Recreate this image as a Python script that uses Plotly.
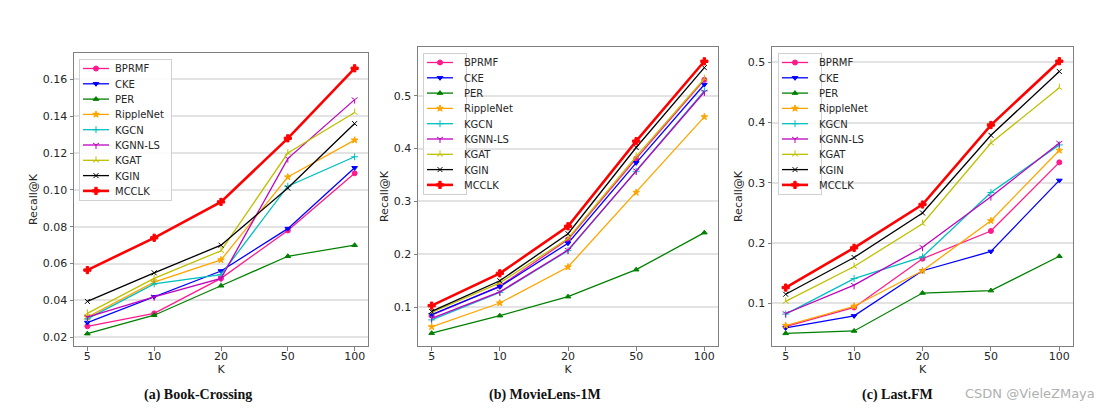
import plotly.graph_objects as go

ks = ["5", "10", "20", "50", "100"]
models = ["BPRMF", "CKE", "PER", "RippleNet", "KGCN", "KGNN-LS", "KGAT", "KGIN", "MCCLK"]

book = {
    "BPRMF":     [0.026, 0.033, 0.052, 0.078, 0.109],
    "CKE":       [0.028, 0.042, 0.056, 0.079, 0.112],
    "PER":       [0.022, 0.032, 0.048, 0.064, 0.070],
    "RippleNet": [0.031, 0.050, 0.062, 0.107, 0.127],
    "KGCN":      [0.030, 0.049, 0.054, 0.102, 0.118],
    "KGNN-LS":   [0.031, 0.042, 0.052, 0.117, 0.149],
    "KGAT":      [0.033, 0.052, 0.067, 0.120, 0.142],
    "KGIN":      [0.0395, 0.055, 0.070, 0.101, 0.136],
    "MCCLK":     [0.0565, 0.074, 0.0935, 0.128, 0.166],
}
movie = {
    "BPRMF":     [0.085, 0.140, 0.228, 0.381, 0.530],
    "CKE":       [0.086, 0.139, 0.221, 0.373, 0.521],
    "PER":       [0.051, 0.084, 0.120, 0.171, 0.241],
    "RippleNet": [0.063, 0.108, 0.176, 0.317, 0.460],
    "KGCN":      [0.076, 0.128, 0.207, 0.357, 0.509],
    "KGNN-LS":   [0.079, 0.129, 0.208, 0.358, 0.507],
    "KGAT":      [0.090, 0.146, 0.230, 0.385, 0.532],
    "KGIN":      [0.092, 0.150, 0.239, 0.402, 0.553],
    "MCCLK":     [0.103, 0.164, 0.253, 0.414, 0.565],
}
lastfm = {
    "BPRMF":     [0.061, 0.093, 0.174, 0.220, 0.334],
    "CKE":       [0.059, 0.079, 0.154, 0.186, 0.304],
    "PER":       [0.050, 0.054, 0.117, 0.121, 0.178],
    "RippleNet": [0.063, 0.095, 0.154, 0.237, 0.354],
    "KGCN":      [0.082, 0.141, 0.177, 0.284, 0.363],
    "KGNN-LS":   [0.083, 0.130, 0.193, 0.277, 0.366],
    "KGAT":      [0.103, 0.161, 0.232, 0.366, 0.458],
    "KGIN":      [0.115, 0.176, 0.250, 0.379, 0.485],
    "MCCLK":     [0.126, 0.192, 0.264, 0.396, 0.502],
}
captions = ["(a) Book-Crossing", "(b) MovieLens-1M", "(c) Last.FM"]

colors = {"BPRMF": "#ff1a8c", "CKE": "#0000ff", "PER": "#008000", "RippleNet": "#ffa500",
          "KGCN": "#00bfbf", "KGNN-LS": "#bf00bf", "KGAT": "#bfbf00", "KGIN": "#000000",
          "MCCLK": "#ff0000"}
symbols = {"BPRMF": "circle", "CKE": "triangle-down", "PER": "triangle-up", "RippleNet": "star",
           "KGCN": "cross-thin-open", "KGNN-LS": "y-down-open", "KGAT": "y-up-open",
           "KGIN": "x-thin-open", "MCCLK": "cross"}
sizes = {"BPRMF": 5, "CKE": 5, "PER": 5, "RippleNet": 5, "KGCN": 5, "KGNN-LS": 5,
         "KGAT": 5, "KGIN": 5, "MCCLK": 6}

W, H = 1117, 408
panels = [
    dict(data=book, xd=(74, 368), yd=(53, 346), yr=(0.0153, 0.1743), dt=0.02, fmt=".2f",
         leg=(79, 59), cap=198),
    dict(data=movie, xd=(418, 718), yd=(47, 346), yr=(0.0267, 0.592), dt=0.1, fmt=".1f",
         leg=(423, 53), cap=545),
    dict(data=lastfm, xd=(772, 1073), yd=(47, 346), yr=(0.029, 0.5256), dt=0.1, fmt=".1f",
         leg=(778, 53), cap=897),
]

fig = go.Figure()
layout = {}
for i, p in enumerate(panels):
    n = "" if i == 0 else str(i + 1)
    lg = "legend" + n
    for m in models:
        thick = m == "MCCLK"
        fig.add_trace(go.Scatter(
            x=ks, y=p["data"][m], name=m, mode="lines+markers",
            xaxis="x" + n, yaxis="y" + n, legend=lg,
            line=dict(color=colors[m], width=2.6 if thick else 1.3),
            marker=dict(symbol=symbols[m], size=sizes[m], color=colors[m],
                        line=dict(color=colors[m], width=1)),
        ))
    axcommon = dict(showline=True, linecolor="#7f7f7f", linewidth=1, mirror=True,
                    ticks="outside", ticklen=3.5, tickcolor="#7f7f7f",
                    tickfont=dict(family="DejaVu Sans", size=11, color="#262626"),
                    automargin=False)
    layout["xaxis" + n] = dict(axcommon, domain=[p["xd"][0] / W, p["xd"][1] / W],
                               anchor="y" + n, type="category", range=[-0.2, 4.2],
                               showgrid=False, ticklabelstandoff=-4,
                               title=dict(text="K", standoff=0,
                                          font=dict(family="DejaVu Sans", size=11, color="#262626")))
    layout["yaxis" + n] = dict(axcommon, domain=[1 - p["yd"][1] / H, 1 - p["yd"][0] / H],
                               anchor="x" + n, range=list(p["yr"]), dtick=p["dt"],
                               tickformat=p["fmt"], showgrid=True, gridcolor="#e3e3e3",
                               gridwidth=1.5, zeroline=False,
                               title=dict(text="Recall@K", standoff=2,
                                          font=dict(family="DejaVu Sans", size=11, color="#262626")))
    layout[lg] = dict(x=p["leg"][0] / W, y=1 - p["leg"][1] / H, xanchor="left", yanchor="top",
                      bgcolor="rgba(255,255,255,0.85)", bordercolor="#d0d0d0", borderwidth=1,
                      font=dict(family="DejaVu Sans", size=10, color="#262626"),
                      tracegroupgap=0, itemwidth=30)

annotations = []
for i, p in enumerate(panels):
    annotations.append(dict(text="<b>" + captions[i] + "</b>", x=p["cap"] / W, y=1 - 395 / H,
                            xref="paper", yref="paper", showarrow=False, xanchor="center",
                            yanchor="middle",
                            font=dict(family="Liberation Serif", size=14, color="#111111")))
annotations.append(dict(text="CSDN @VieleZMaya", x=1030 / W, y=1 - 393 / H, xref="paper",
                        yref="paper", showarrow=False, xanchor="center", yanchor="middle",
                        font=dict(family="DejaVu Sans", size=13, color="#b0b0b0")))

fig.update_layout(width=W, height=H, margin=dict(l=0, r=0, t=0, b=0),
                  paper_bgcolor="white", plot_bgcolor="white", annotations=annotations,
                  **layout)

post = """
document.body.style.margin = '0';
var gd = document.getElementById('{plot_id}');
function fixLegends() {
  ['legend', 'legend2', 'legend3'].forEach(function (cls) {
    var lg = gd.querySelector('g.' + cls);
    if (!lg) return;
    var traces = lg.querySelectorAll('g.traces');
    var maxw = 0;
    traces.forEach(function (t, i) {
      t.setAttribute('transform', 'translate(1,' + (9.5 + i * 15.3) + ')');
      t.querySelectorAll('.legendlines path').forEach(function (p) { p.setAttribute('d', 'M3,0h26'); });
      t.querySelectorAll('.legendpoints path').forEach(function (q) { q.setAttribute('transform', 'translate(16,0)'); });
      var tx = t.querySelector('text.legendtext');
      if (tx) {
        tx.setAttribute('x', 35);
        var w = tx.getComputedTextLength();
        if (w > maxw) maxw = w;
      }
    });
    var bg = lg.querySelector('rect.bg');
    if (bg) {
      bg.setAttribute('height', 9.5 + 8 * 15.3 + 9);
      bg.setAttribute('width', 35 + maxw + 8);
    }
  });
}
fixLegends();
setTimeout(fixLegends, 50);
setTimeout(fixLegends, 300);
"""
fig.write_html("out.html", post_script=post, config={"displayModeBar": False})
